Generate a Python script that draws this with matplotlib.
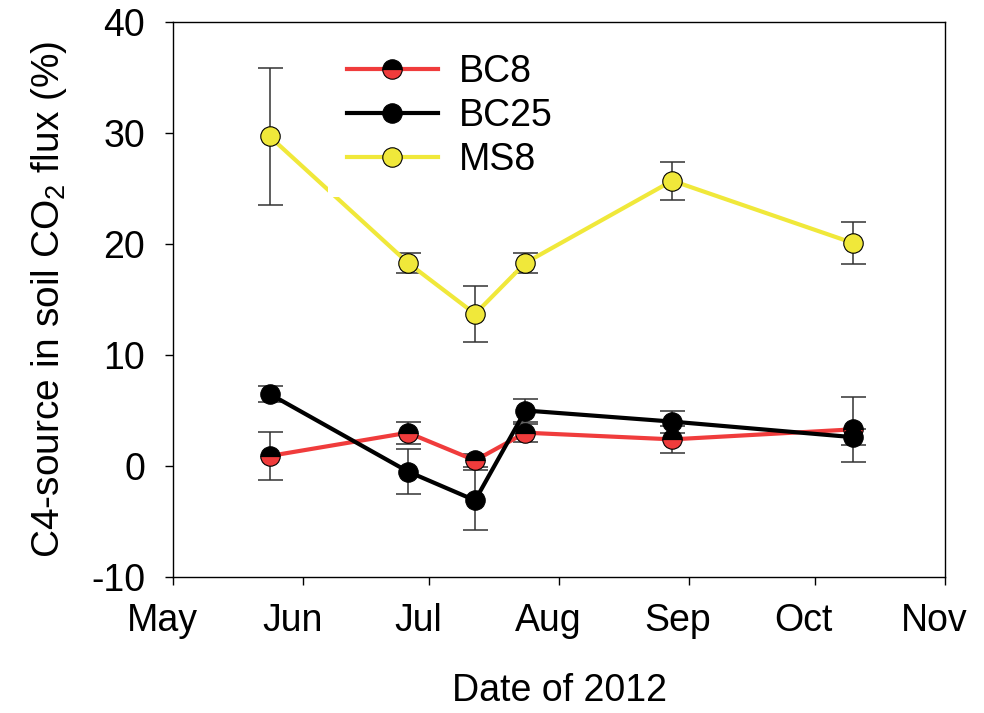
import datetime as dt

import matplotlib
matplotlib.use("Agg")
import matplotlib.pyplot as plt
import matplotlib.dates as mdates
import matplotlib.transforms as mtransforms

plt.rcParams.update({
    "font.family": ["Liberation Sans", "DejaVu Sans"],
    "mathtext.default": "regular",
    "axes.unicode_minus": False,
    "axes.linewidth": 1.0,
})

RED = "#F03C3C"
YELLOW = "#F0E83A"
ERR = "#333333"

DATES = [dt.date(2012, 5, 24), dt.date(2012, 6, 26), dt.date(2012, 7, 12),
         dt.date(2012, 7, 24), dt.date(2012, 8, 28), dt.date(2012, 10, 10)]

BC8 = [0.9, 3.0, 0.5, 3.0, 2.4, 3.3]
BC8_ERR = [2.2, 1.0, 0.6, 0.8, 1.2, 2.9]
BC25 = [6.5, -0.5, -3.1, 5.0, 4.0, 2.6]
BC25_ERR = [0.75, 2.0, 2.7, 1.0, 1.0, 0.7]
MS8 = [29.7, 18.3, 13.7, 18.3, 25.7, 20.1]
MS8_ERR = [6.2, 0.9, 2.5, 0.9, 1.7, 1.9]

FS = 27

fig = plt.figure(figsize=(9.84, 7.13), dpi=100)
ax = fig.add_axes([173 / 984, 1 - 577 / 713, (945 - 173) / 984, (577 - 22) / 713])

for vals, errs in [(BC8, BC8_ERR), (BC25, BC25_ERR), (MS8, MS8_ERR)]:
    ax.errorbar(DATES, vals, yerr=errs, fmt="none", ecolor=ERR,
                elinewidth=1.1, capsize=9, capthick=1.1, zorder=2)

ax.plot(DATES, BC8, color=RED, lw=3, marker="o", ms=14, fillstyle="bottom",
        markerfacecolor=RED, markerfacecoloralt="black", markeredgecolor="black",
        markeredgewidth=0.8, zorder=3, label="BC8")
ax.plot(DATES, BC25, color="black", lw=3, marker="o", ms=14,
        markerfacecolor="black", markeredgecolor="black",
        markeredgewidth=0.8, zorder=4, label="BC25")
ax.plot(DATES, MS8, color=YELLOW, lw=3, marker="o", ms=14,
        markerfacecolor=YELLOW, markeredgecolor="black",
        markeredgewidth=0.8, zorder=5, label="MS8")

ax.set_xlim(dt.date(2012, 5, 1), dt.date(2012, 11, 1))
ax.set_ylim(-10, 40)
ax.set_yticks([-10, 0, 10, 20, 30, 40])
ax.xaxis.set_major_locator(mdates.MonthLocator())
ax.xaxis.set_major_formatter(mdates.DateFormatter("%b"))

ax.tick_params(axis="both", direction="out", length=6, width=1.0,
               labelsize=FS, colors="black")
ax.tick_params(axis="y", pad=14)
ax.tick_params(axis="x", pad=13)
for lbl in ax.get_xticklabels():
    lbl.set_transform(lbl.get_transform() +
                      mtransforms.ScaledTranslation(-11 / 100, 0, fig.dpi_scale_trans))

ax.set_ylabel("C4-source in soil CO$_2$ flux (%)", fontsize=28, labelpad=16)
ax.set_xlabel("Date of 2012", fontsize=FS, labelpad=24)

leg = ax.legend(loc="upper left", bbox_to_anchor=(328 / 984, 1 - 35 / 713),
                bbox_transform=fig.transFigure, fontsize=FS, frameon=True,
                facecolor="white", edgecolor="none", framealpha=1.0,
                borderaxespad=0, borderpad=0.5, handlelength=2.43,
                handletextpad=0.56, labelspacing=0.22, fancybox=False)
leg.set_zorder(10)

fig.savefig("out.png", dpi=100, facecolor="white")
